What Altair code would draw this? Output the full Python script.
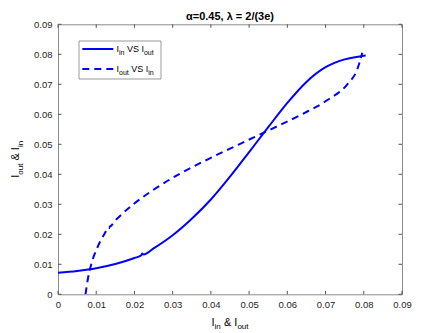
import altair as alt
import pandas as pd

# I_in vs I_out (solid curve)
i_out_vals = [0, 0.005, 0.01, 0.015, 0.02, 0.0218, 0.022, 0.0224, 0.025, 0.03, 0.035,
              0.04, 0.045, 0.05, 0.055, 0.06, 0.065, 0.07, 0.075, 0.08, 0.0805]
i_in_vals = [0.0072, 0.0078, 0.0087, 0.0101, 0.0121, 0.0130, 0.0136, 0.0133, 0.0153, 0.0197, 0.0252,
             0.0316, 0.0392, 0.0474, 0.0557, 0.0638, 0.0708, 0.0757, 0.0783, 0.0795, 0.0796]

x_ticks = [0, 0.01, 0.02, 0.03, 0.04, 0.05, 0.06, 0.07, 0.08, 0.09]
y_ticks = [0, 0.01, 0.02, 0.03, 0.04, 0.05, 0.06, 0.07, 0.08, 0.09]

title_text = "\u03b1=0.45, \u03bb = 2/(3e)"

W, H = 344, 270
FONT = "Liberation Sans"
BLUE = "#0000ff"

solid = pd.DataFrame({"x": i_out_vals, "y": i_in_vals, "i": range(len(i_out_vals))})
dashed = pd.DataFrame({"x": i_in_vals, "y": i_out_vals, "i": range(len(i_out_vals))})

xs = alt.Scale(domain=[0, 0.09], nice=False)
ys = alt.Scale(domain=[0, 0.09], nice=False)

LBL = "datum.value == 0 ? '0' : format(datum.value, '.2f')"
x_axis = alt.Axis(values=x_ticks, labelExpr=LBL, title=None, labelPadding=5,
                  labelOverlap=False, labelFlush=False)
y_axis = alt.Axis(values=y_ticks, labelExpr=LBL, title=None, labelPadding=6,
                  labelOverlap=False, labelFlush=False)

line_solid = alt.Chart(solid).mark_line(color=BLUE, strokeWidth=2, interpolate="monotone", clip=True).encode(
    x=alt.X("x:Q", scale=xs, axis=x_axis),
    y=alt.Y("y:Q", scale=ys, axis=y_axis),
    order="i:Q",
)
line_dashed = alt.Chart(dashed).mark_line(color=BLUE, strokeWidth=2, strokeDash=[7, 5],
                                          interpolate="monotone", clip=True).encode(
    x=alt.X("x:Q", scale=xs, axis=x_axis),
    y=alt.Y("y:Q", scale=ys, axis=y_axis),
    order="i:Q",
)

tx = pd.DataFrame({"t": x_ticks})
ty = pd.DataFrame({"t": y_ticks})
TICK = "#555555"
TL = 3.5
ticks_bottom = alt.Chart(tx).mark_rule(color=TICK, strokeWidth=1).encode(
    x=alt.X("t:Q", scale=xs, axis=x_axis), y=alt.value(H), y2=alt.value(H - TL))
ticks_top = alt.Chart(tx).mark_rule(color=TICK, strokeWidth=1).encode(
    x=alt.X("t:Q", scale=xs, axis=x_axis), y=alt.value(0), y2=alt.value(TL))
ticks_left = alt.Chart(ty).mark_rule(color=TICK, strokeWidth=1).encode(
    y=alt.Y("t:Q", scale=ys, axis=y_axis), x=alt.value(0), x2=alt.value(TL))
ticks_right = alt.Chart(ty).mark_rule(color=TICK, strokeWidth=1).encode(
    y=alt.Y("t:Q", scale=ys, axis=y_axis), x=alt.value(W), x2=alt.value(W - TL))

one = pd.DataFrame({"a": [0]})


def txt(s, x, y, size, angle=0, weight="normal", align="left", baseline="alphabetic", color="#000000"):
    return alt.Chart(one).mark_text(text=s, fontSize=size, font=FONT, angle=angle, fontWeight=weight,
                                    align=align, baseline=baseline, color=color).encode(
        x=alt.value(x), y=alt.value(y))


layers = [line_solid, line_dashed, ticks_bottom, ticks_top, ticks_left, ticks_right]

# title
layers.append(txt(title_text, W / 2, -4.5, 11, weight="bold", align="center"))

# x label: I_in & I_out
xb = 301.5
layers += [
    txt("I", 153.5, xb, 11), txt("in", 156.6, xb + 3.3, 8),
    txt("&", 165.9, xb, 11), txt("I", 176.3, xb, 11), txt("out", 179.4, xb + 3.3, 8),
]

# y label: I_out & I_in (rotated)
yb = -39
layers += [
    txt("I", yb, 153.5, 11, angle=270), txt("out", yb + 3.5, 150.4, 8, angle=270),
    txt("&", yb, 136.3, 11, angle=270), txt("I", yb, 125.9, 11, angle=270),
    txt("in", yb + 3.5, 122.8, 8, angle=270),
]

# legend
layers.append(alt.Chart(one).mark_rect(fill="white", stroke="#999999", strokeWidth=1).encode(
    x=alt.value(21), x2=alt.value(103), y=alt.value(16.7), y2=alt.value(54.7)))
r1, r2 = 24.7, 44.7
layers.append(alt.Chart(one).mark_rule(color=BLUE, strokeWidth=2).encode(
    x=alt.value(24.3), x2=alt.value(55.3), y=alt.value(r1)))
layers.append(alt.Chart(one).mark_rule(color=BLUE, strokeWidth=2, strokeDash=[7, 5]).encode(
    x=alt.value(24.3), x2=alt.value(55.3), y=alt.value(r2)))
b1, b2 = r1 + 3.4, r2 + 3.4
layers += [
    txt("I", 58.5, b1, 9), txt("in", 61.0, b1 + 2.8, 7), txt("VS", 68.9, b1, 9),
    txt("I", 83.4, b1, 9), txt("out", 85.9, b1 + 2.8, 7),
    txt("I", 58.5, b2, 9), txt("out", 61.0, b2 + 2.8, 7), txt("VS", 73.2, b2, 9),
    txt("I", 87.7, b2, 9), txt("in", 90.2, b2 + 2.8, 7),
]

chart = alt.layer(*layers).properties(
    width=W, height=H,
    autosize=alt.AutoSizeParams(type="none"),
    padding={"left": 50, "top": 16.3, "right": 26, "bottom": 38.4},
).configure_view(stroke="#8c8c8c", strokeWidth=1).configure_axis(
    domain=False, ticks=False, grid=False, labelFont=FONT, labelFontSize=9.5, labelColor="#262626",
    labelOverlap=False,
)

chart.save("out.html", embed_options={"renderer": "svg", "actions": False})
